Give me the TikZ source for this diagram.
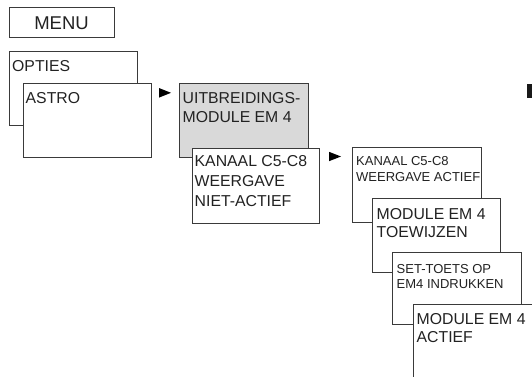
\documentclass[tikz,border=0pt]{standalone}
\usepackage{fontspec}
\setmainfont{Liberation Sans}
\definecolor{linec}{HTML}{3A3A3A}
\definecolor{txt}{HTML}{222222}
\definecolor{greyfill}{HTML}{D9D9D9}
\tikzset{
  box/.style={draw=linec, line width=1pt, fill=white, rectangle, anchor=north west, inner sep=0pt},
  bigL/.style={anchor=base west, inner sep=0pt, align=left, text=txt, font=\fontsize{15.8}{20}\selectfont},
  bigR/.style={anchor=base west, inner sep=0pt, align=left, text=txt, font=\fontsize{15.8}{18.7}\selectfont},
  smallT/.style={anchor=base west, inner sep=0pt, align=left, text=txt, font=\fontsize{13}{15.5}\selectfont},
  tri/.style={fill=black, draw=none}
}
\begin{document}
\begin{tikzpicture}[x=1pt, y=-1pt]
\useasboundingbox (0,0) rectangle (532,376);
\begin{scope}
\clip (0,0) rectangle (532,376);
% MENU
\node[box, minimum width=105pt, minimum height=30pt] (menu) at (9,7) {};
\node[anchor=base, inner sep=0pt, text=txt, font=\fontsize{18.5}{20}\selectfont] (menut) at (61.5,29.3) {MENU};
% OPTIES / ASTRO
\node[box, minimum width=128pt, minimum height=74pt] (opties) at (9,51) {};
\node[bigL] (optiest) at (12,71) {OPTIES};
\node[box, minimum width=128pt, minimum height=74pt] (astro) at (23,83) {};
\node[bigL] (astrot) at (25.5,103.3) {ASTRO};
% arrow 1
\fill[tri] (159,88) -- (171,92.8) -- (159,97.6) -- cycle;
% UITBREIDINGS
\node[box, fill=greyfill, minimum width=129pt, minimum height=74pt] (uitb) at (179,83) {};
\node[bigL, font=\fontsize{15.8}{19.4}\selectfont] (uitbt) at (182.5,122.7) {UITBREIDINGS-\\MODULE EM 4};
\node[box, minimum width=127pt, minimum height=75pt] (kanaal) at (192,148) {};
\node[bigL] (kanaalt) at (194.5,206.7) {KANAAL C5-C8\\WEERGAVE\\NIET-ACTIEF};
% arrow 2
\fill[tri] (329,151.8) -- (341,156.5) -- (329,161.2) -- cycle;
% right column
\node[box, minimum width=129pt, minimum height=75pt] (kact) at (352,147) {};
\node[smallT, font=\fontsize{13}{16}\selectfont] (kactt) at (356,181.7) {KANAAL C5-C8\\WEERGAVE ACTIEF};
\node[box, minimum width=128pt, minimum height=74pt] (toew) at (372,198) {};
\node[bigR] (toewt) at (376.5,237.7) {MODULE EM 4\\TOEWIJZEN};
\node[box, minimum width=129pt, minimum height=72pt] (sett) at (392,252) {};
\node[smallT, font=\fontsize{13}{15}\selectfont] (settt) at (396.5,288.3) {SET-TOETS OP\\EM4 INDRUKKEN};
\node[box, minimum width=140pt, minimum height=90pt] (actief) at (413,304) {};
\node[bigR] (actieft) at (416.5,342.7) {MODULE EM 4\\ACTIEF};
% black tab
\fill[black!90] (527,84) rectangle (532,98);
\end{scope}
\end{tikzpicture}
\end{document}
